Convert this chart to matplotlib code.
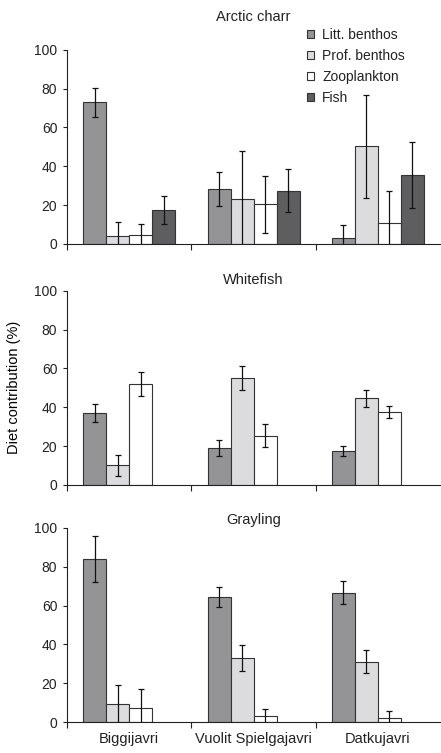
import numpy as np
import matplotlib
matplotlib.use("Agg")
import matplotlib.pyplot as plt

plt.rcParams['font.family'] = ['Liberation Sans', 'DejaVu Sans']
plt.rcParams['font.size'] = 10
plt.rcParams['text.color'] = '#222222'
plt.rcParams['axes.edgecolor'] = '#222222'
plt.rcParams['xtick.color'] = '#222222'
plt.rcParams['ytick.color'] = '#222222'

lakes = ["Biggijavri", "Vuolit Spielgajavri", "Datkujavri"]
prey = ["Litt. benthos", "Prof. benthos", "Zooplankton", "Fish"]
prey_colors = ["#949497", "#dcdcde", "#ffffff", "#5e5e60"]

# mean diet contribution (%) per lake, one row per prey group
charr_mean = [[73.0, 28.3, 3.3],
              [4.1, 23.1, 50.3],
              [4.5, 20.4, 10.8],
              [17.5, 27.4, 35.3]]
charr_err = [[7.5, 9.0, 6.3],
             [7.0, 24.8, 26.5],
             [6.0, 14.6, 16.6],
             [7.0, 11.2, 17.0]]

whitefish_mean = [[37.0, 18.9, 17.5],
                  [10.1, 54.9, 44.6],
                  [52.0, 25.4, 37.6]]
whitefish_err = [[4.5, 4.2, 2.6],
                 [5.3, 6.2, 4.3],
                 [6.0, 5.9, 3.2]]

grayling_mean = [[84.0, 64.4, 66.7],
                 [9.3, 33.0, 31.1],
                 [7.2, 3.1, 2.1]]
grayling_err = [[12.0, 4.9, 5.7],
                 [9.6, 6.9, 5.9],
                 [9.8, 3.6, 3.4]]

panels = [("Arctic charr", charr_mean, charr_err, 21),
          ("Whitefish", whitefish_mean, whitefish_err, 5),
          ("Grayling", grayling_mean, grayling_err, 3)]

fig = plt.figure(figsize=(4.41, 7.53), dpi=100)
bottoms = [0.676, 0.356, 0.041]
height = 0.258
width = 0.185
x = np.arange(len(lakes))

axes = []
for (title, means, errs, tpad), b in zip(panels, bottoms):
    ax = fig.add_axes([0.152, b, 0.846, height])
    for i, (m, e) in enumerate(zip(means, errs)):
        pos = x + (i - 1.5) * width
        ax.bar(pos, m, width=width, color=prey_colors[i], edgecolor='#333333',
               linewidth=0.8, label=prey[i], zorder=2)
        ax.errorbar(pos, m, yerr=e, fmt='none', ecolor='#111111', elinewidth=0.9,
                    capsize=2.4, capthick=0.9, zorder=3)
    ax.set_xlim(-0.5, 2.5)
    ax.set_ylim(0, 100)
    ax.set_yticks([0, 20, 40, 60, 80, 100])
    ax.tick_params(axis='y', length=3, width=0.8, pad=4, labelsize=10)
    ax.set_xticks([-0.5, 0.5, 1.5])
    ax.set_xticklabels([])
    ax.tick_params(axis='x', which='major', length=4, width=0.8, direction='out')
    ax.set_xticks(x, minor=True)
    ax.tick_params(axis='x', which='minor', length=0, pad=7, labelsize=10.5)
    ax.spines['top'].set_visible(False)
    ax.spines['right'].set_visible(False)
    ax.spines['left'].set_linewidth(0.8)
    ax.spines['bottom'].set_linewidth(0.8)
    ax.set_title(title, fontsize=10.5, pad=tpad)
    axes.append(ax)

axes[2].set_xticklabels(lakes, minor=True)
axes[1].set_ylabel("Diet contribution (%)", fontsize=10.5)
axes[1].yaxis.set_label_coords(-0.123, 0.5)

axes[0].legend(loc='upper left', bbox_to_anchor=(0.696, 0.963),
               bbox_transform=fig.transFigure, frameon=False, fontsize=10,
               handlelength=0.5, handleheight=0.5, handletextpad=0.6,
               labelspacing=0.5, borderpad=0, borderaxespad=0)

fig.savefig("out.png", dpi=100)
